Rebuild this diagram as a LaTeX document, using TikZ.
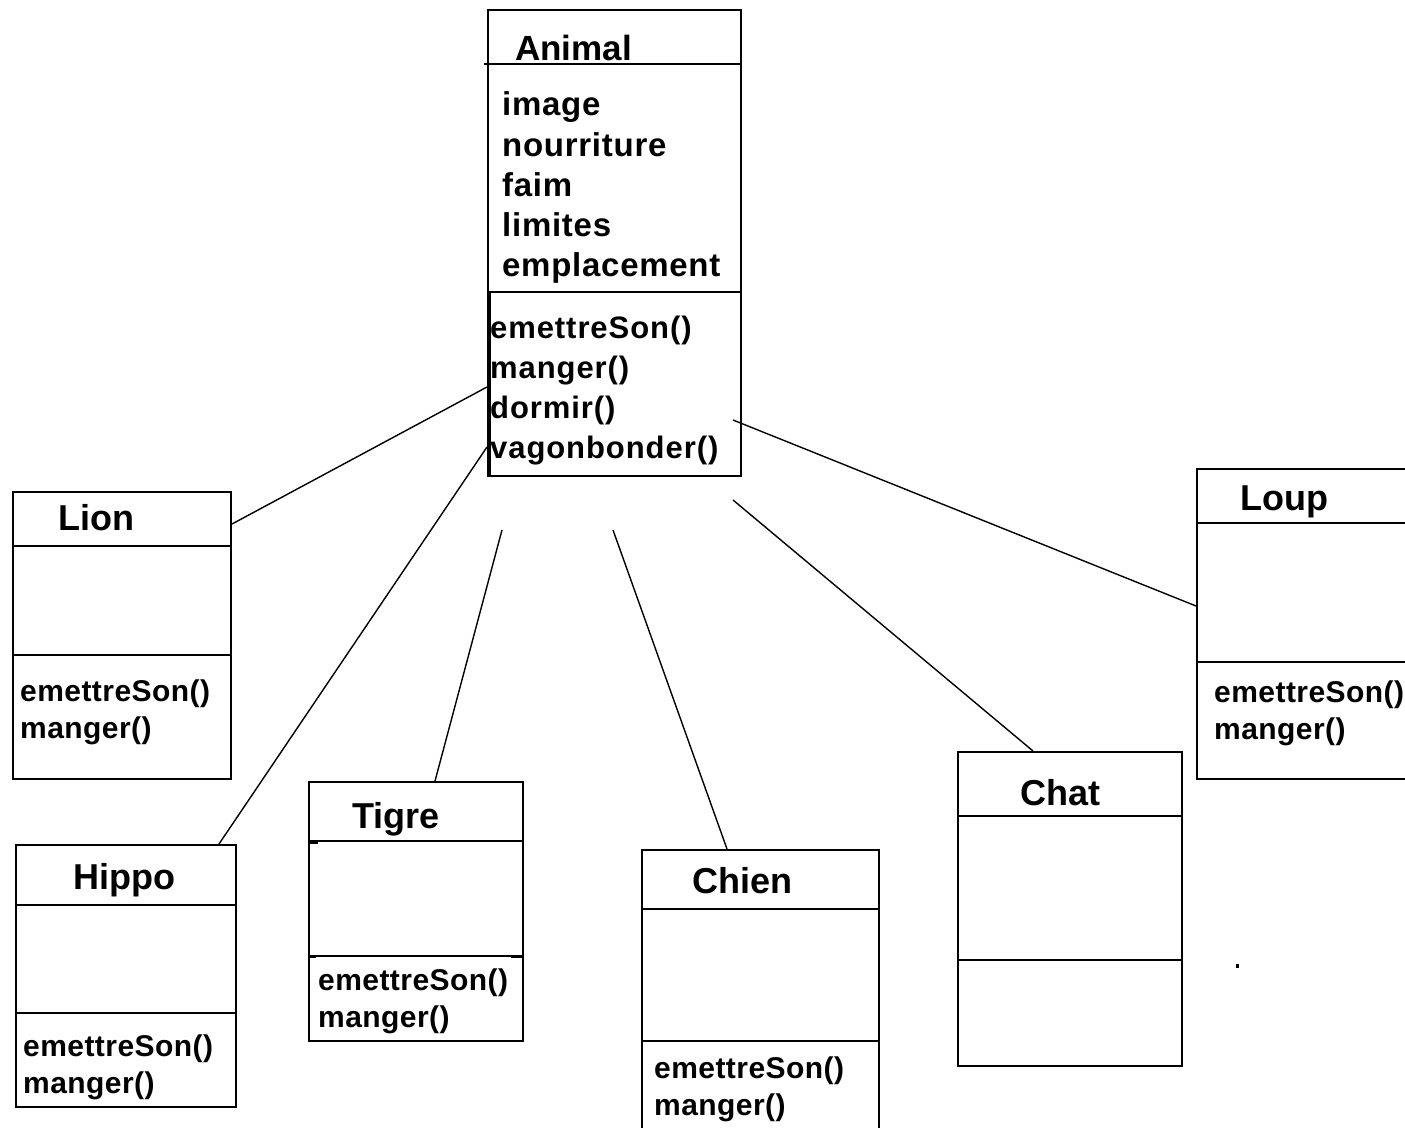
\documentclass[tikz,border=0pt]{standalone}
\usepackage{fontspec}
\setmainfont{Liberation Sans}
\newfontfamily\wideA[LetterSpace=2.2]{Liberation Sans}
\newfontfamily\wideB[LetterSpace=3]{Liberation Sans}
\newfontfamily\wideC[LetterSpace=1.5]{Liberation Sans}
\begin{document}
\begin{tikzpicture}[x=1pt,y=-1pt,
  cls/.style={draw=black,line width=2pt,rectangle,anchor=north west,inner sep=0pt},
  div/.style={line width=2pt},
  link/.style={line width=1.4pt},
  ttl/.style={anchor=base west,inner sep=0pt,font=\fontsize{36}{40}\selectfont\bfseries},
  atr/.style={anchor=base west,inner sep=0pt,font=\wideA\fontsize{33}{38}\selectfont\bfseries},
  amt/.style={anchor=base west,inner sep=0pt,font=\wideB\fontsize{31}{36}\selectfont\bfseries},
  mth/.style={anchor=base west,inner sep=0pt,font=\wideC\fontsize{30}{34}\selectfont\bfseries}]
\useasboundingbox (0,0) rectangle (1405,1127);
\clip (0,0) rectangle (1405,1127);
\fill[white] (0,0) rectangle (1405,1127);

% Animal
\node[cls,minimum width=253pt,minimum height=466pt] (animal) at (487,9) {};
\draw[div] (484,64) -- (animal.east |- 0,64);
\draw[div] (animal.west |- 0,292) -- (animal.east |- 0,292);
\draw[line width=4.5pt] (489,292) -- (489,475);
\node[ttl,font=\fontsize{35}{40}\selectfont\bfseries] (tA) at (515,60) {Animal};
\node[atr] (a1) at (502,115) {image};
\node[atr] (a2) at (502,156) {nourriture};
\node[atr] (a3) at (502,196) {faim};
\node[atr] (a4) at (502,236) {limites};
\node[atr] (a5) at (502,276) {emplacement};
\node[amt] (m1) at (490,338) {emettreSon()};
\node[amt] (m2) at (490,378) {manger()};
\node[amt] (m3) at (490,418) {dormir()};
\node[amt] (m4) at (490,458) {vagonbonder()};

% Lion
\node[cls,minimum width=218pt,minimum height=287pt] (lion) at (12,491) {};
\draw[div] (lion.west |- 0,546) -- (lion.east |- 0,546);
\draw[div] (lion.west |- 0,655) -- (lion.east |- 0,655);
\node[ttl] (tL) at (58,530) {Lion};
\node[mth] (l1) at (20,701) {emettreSon()};
\node[mth] (l2) at (20,738) {manger()};

% Hippo
\node[cls,minimum width=220pt,minimum height=262pt] (hippo) at (15,844) {};
\draw[div] (hippo.west |- 0,905) -- (hippo.east |- 0,905);
\draw[div] (hippo.west |- 0,1013) -- (hippo.east |- 0,1013);
\node[ttl] (tH) at (73,889) {Hippo};
\node[mth] (h1) at (23,1056) {emettreSon()};
\node[mth] (h2) at (23,1093) {manger()};

% Tigre
\node[cls,minimum width=214pt,minimum height=259pt] (tigre) at (308,781) {};
\draw[div] (tigre.west |- 0,841) -- (tigre.east |- 0,841);
\draw[div] (tigre.west |- 0,956) -- (524,956);
\draw[line width=3pt] (308,842) -- (318,842);
\draw[line width=3pt] (308,956) -- (316,956);
\draw[line width=3pt] (511,956) -- (524,956);
\node[ttl] (tT) at (352,828) {Tigre};
\node[mth] (t1) at (318,990) {emettreSon()};
\node[mth] (t2) at (318,1027) {manger()};

% Chien
\node[cls,minimum width=237pt,minimum height=290pt] (chien) at (641,849) {};
\draw[div] (chien.west |- 0,909) -- (chien.east |- 0,909);
\draw[div] (chien.west |- 0,1041) -- (chien.east |- 0,1041);
\node[ttl] (tC) at (692,893) {Chien};
\node[mth] (c1) at (654,1078) {emettreSon()};
\node[mth] (c2) at (654,1115) {manger()};

% Chat
\node[cls,minimum width=224pt,minimum height=314pt] (chat) at (957,751) {};
\draw[div] (chat.west |- 0,816) -- (chat.east |- 0,816);
\draw[div] (chat.west |- 0,960) -- (chat.east |- 0,960);
\node[ttl] (tCh) at (1020,805) {Chat};

% Loup
\node[cls,minimum width=230pt,minimum height=310pt] (loup) at (1196,468) {};
\draw[div] (loup.west |- 0,523) -- (loup.east |- 0,523);
\draw[div] (loup.west |- 0,662) -- (loup.east |- 0,662);
\node[ttl] (tLo) at (1240,510) {Loup};
\node[mth] (o1) at (1214,702) {emettreSon()};
\node[mth] (o2) at (1214,739) {manger()};

% stray dot
\fill (1236,964) rectangle (1239,968);

% connectors
\coordinate (eTigre) at (502,530);
\coordinate (eChien) at (613,530);
\coordinate (eChat) at (733,500);
\coordinate (eLoup) at (733,420);
\draw[link] (lion.east |- 0,524) -- (animal.west |- 0,387);
\draw[link] (hippo.north west) ++(204,0) -- (animal.west |- 0,447);
\draw[link] (tigre.north west) ++(127,0) -- (eTigre);
\draw[link] (chien.north west) ++(86,0) -- (eChien);
\draw[link] (chat.north west) ++(76,0) -- (eChat);
\draw[link] (loup.west |- 0,606) -- (eLoup);
\end{tikzpicture}
\end{document}
